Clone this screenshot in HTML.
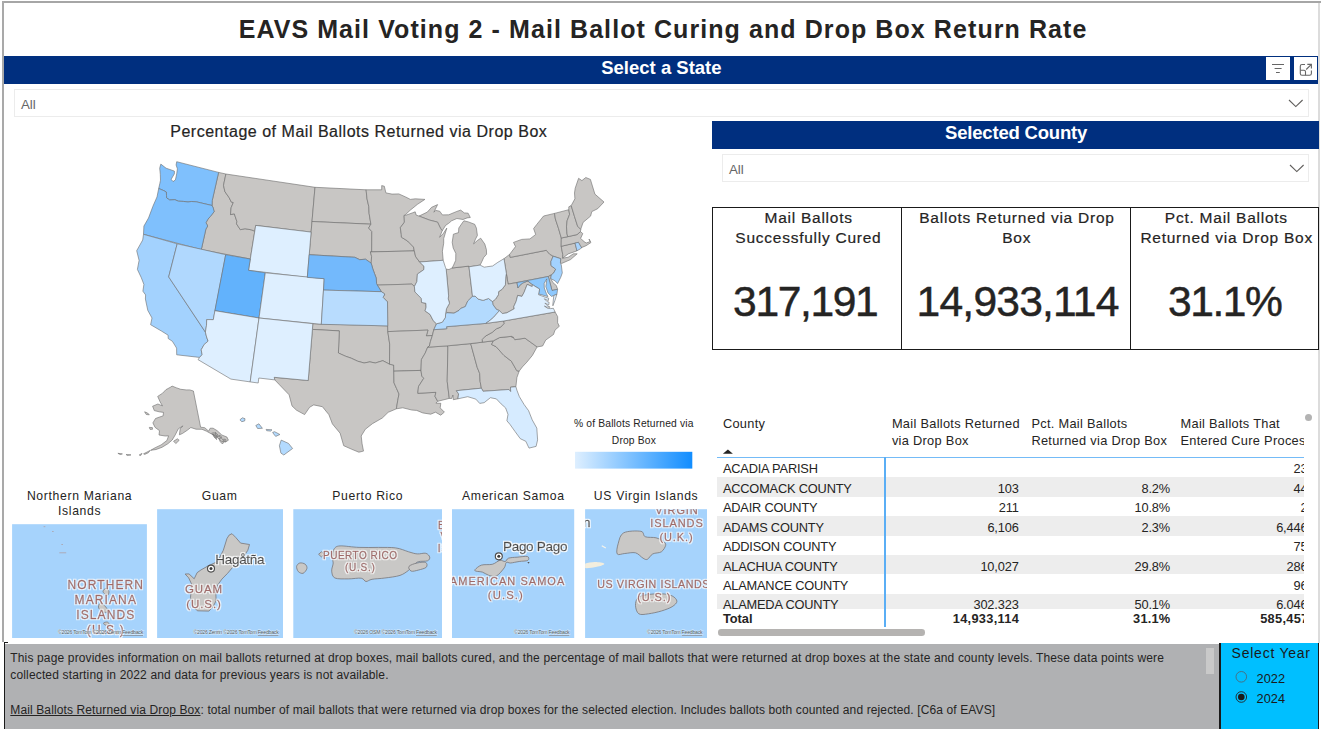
<!DOCTYPE html>
<html lang="en">
<head>
<meta charset="utf-8">
<title>EAVS Mail Voting 2 - Mail Ballot Curing and Drop Box Return Rate</title>
<style>
html,body{margin:0;padding:0;background:#fff;overflow:hidden;}
body{width:1321px;height:729px;position:relative;overflow:hidden;font-family:"Liberation Sans",sans-serif;color:#252423;}
.abs{position:absolute;}
.nw{white-space:nowrap;}
.bar{background:#002f7f;}
.btn{background:#fff;top:57px;height:23px;}
.dd{border:1px solid #ececec;box-sizing:border-box;height:28px;background:#fff;}
.terr-t{font-size:12.2px;line-height:15.6px;text-align:center;color:#252423;letter-spacing:0.66px;}
</style>
</head>
<body>
<!-- outer frame -->
<div class="abs" style="left:2px;top:1px;width:1319px;height:2px;background:#a6a6a6;"></div>
<div class="abs" style="left:2px;top:1px;width:2px;height:641px;background:#a9a9a9;"></div>
<div class="abs" style="left:1318px;top:3px;width:2px;height:640px;background:#dcdcdc;"></div>

<!-- blue bars -->
<div class="abs bar" style="left:4px;top:56.2px;width:1314px;height:27.5px;"></div>
<div class="abs bar" style="left:712px;top:121px;width:607px;height:27.6px;"></div>

<!-- header icon buttons -->
<div class="abs btn" style="left:1266px;width:24px;">
<svg width="24" height="23" viewBox="0 0 24 23"><g stroke="#666" stroke-width="1" fill="none"><path d="M6 7.5H18M8.6 11.5H15.6M10 15.5H13.8"/></g></svg>
</div>
<div class="abs btn" style="left:1294px;width:23px;">
<svg width="23" height="23" viewBox="0 0 23 23"><g stroke="#666" stroke-width="1.1" fill="none"><path d="M11 7.5H8Q6.3 7.5 6.3 9.2V16.5Q6.3 18.3 8 18.3H15.5Q17.4 18.3 17.4 16.5V13.5"/><path d="M6.3 13.3H10Q11.5 13.3 11.5 14.8V18.3"/><path d="M12.2 12.5L17.4 7.4M13.3 7.4H17.4V11.5"/></g></svg>
</div>

<!-- dropdowns -->
<div class="abs dd" style="left:14px;top:89px;width:1295px;">
<svg class="abs" style="left:1273px;top:9px" width="16" height="9" viewBox="0 0 16 9"><path d="M1 1L7.8 7.6L14.6 1" fill="none" stroke="#605e5c" stroke-width="1.1"/></svg>
</div>
<div class="abs dd" style="left:722px;top:154px;width:587px;">
<svg class="abs" style="left:566px;top:9px" width="16" height="9" viewBox="0 0 16 9"><path d="M1 1L7.8 7.6L14.6 1" fill="none" stroke="#605e5c" stroke-width="1.1"/></svg>
</div>

<!-- US map -->
<svg class="abs" style="left:0;top:0" width="712" height="490" viewBox="0 0 712 490">
<defs><linearGradient id="lg" x1="0" x2="1" y1="0" y2="0"><stop offset="0" stop-color="#deefff"/><stop offset="1" stop-color="#118dff"/></linearGradient></defs>
<g stroke="#6b6b6b" stroke-width="0.6" stroke-linejoin="round">
<path d="M218.6,172.4L225.9,174.0L223.5,185.3L224.9,191.6L229.1,197.6L231.4,202.1L233.3,202.5L231.1,207.8L230.5,214.6L234.3,213.8L236.9,221.5L236.5,223.8L240.3,229.7L245.0,228.7L251.3,229.8L254.8,231.2L250.3,259.0L201.3,249.6L205.9,229.1L207.7,226.0L206.0,222.7L208.0,219.1L210.2,216.7L214.1,211.7L213.3,208.1L212.1,205.5L212.2,200.7Z" fill="#c8c6c4"/>
<path d="M225.9,174.0L223.5,185.3L224.9,191.6L229.1,197.6L231.4,202.1L233.3,202.5L231.1,207.8L230.5,214.6L234.3,213.8L236.9,221.5L236.5,223.8L240.3,229.7L245.0,228.7L251.3,229.8L254.8,231.2L255.7,225.4L311.1,232.1L315.0,187.3Z" fill="#c8c6c4"/>
<path d="M315.0,187.3L366.1,189.8L367.0,198.8L368.8,206.6L369.1,213.4L370.9,224.2L312.0,221.5Z" fill="#c8c6c4"/>
<path d="M312.0,221.5L370.9,224.2L368.6,228.0L371.8,231.5L371.7,251.9L370.4,251.9L371.6,256.4L371.2,263.2L369.6,262.1L365.5,259.2L359.7,259.7L354.8,257.3L309.2,254.7Z" fill="#c8c6c4"/>
<path d="M312.8,323.7L387.7,325.9L387.8,331.6L389.7,344.1L389.5,364.2L382.8,360.7L375.3,363.0L369.8,361.9L364.1,363.0L357.6,361.2L351.2,358.2L345.7,356.3L338.4,353.0L339.3,330.9L312.4,329.4Z" fill="#c8c6c4"/>
<path d="M312.4,329.4L339.3,330.9L338.4,353.0L345.7,356.3L351.2,358.2L357.6,361.2L364.1,363.0L369.8,361.9L375.3,363.0L382.8,360.7L389.5,364.2L393.7,365.1L393.8,371.2L394.0,382.8L396.5,388.4L399.0,394.0L397.7,400.8L396.4,408.8L388.2,412.3L382.3,418.0L372.4,423.7L365.3,429.3L361.2,436.0L362.1,443.9L363.5,451.1L358.9,452.2L351.8,449.3L343.7,445.7L340.1,433.2L332.4,423.9L328.9,414.7L322.4,406.7L313.7,404.9L309.6,407.3L304.6,414.6L296.5,410.2L292.0,405.9L289.1,394.8L279.4,384.7L274.8,379.9L274.2,377.3L308.2,380.5Z" fill="#c8c6c4"/>
<path d="M381.7,189.8L381.7,185.6L384.3,186.2L385.9,192.9L392.0,194.1L398.8,193.9L405.7,197.0L410.4,199.4L415.3,198.8L424.9,199.4L417.5,204.3L410.1,210.3L405.7,214.5L404.1,215.5L404.4,222.2L400.3,227.7L401.3,234.4L401.4,237.2L407.6,241.0L413.5,247.0L414.3,250.9L371.7,251.9L371.8,231.5L368.6,228.0L370.9,224.2L369.1,213.4L368.8,206.6L367.0,198.8L366.1,189.8Z" fill="#c8c6c4"/>
<path d="M371.7,251.9L414.3,250.9L415.6,256.5L419.6,262.0L424.0,266.3L423.8,269.7L417.4,274.1L416.9,281.5L414.4,286.5L411.9,284.1L377.3,285.1L376.6,283.7L376.2,278.0L374.5,273.5L372.8,268.9L371.2,263.2L371.6,256.4L370.4,251.9Z" fill="#c8c6c4"/>
<path d="M377.3,285.1L411.9,284.1L414.4,286.5L414.9,291.9L421.3,298.4L421.5,302.4L425.9,303.3L426.1,307.3L425.0,310.8L430.1,314.5L433.2,320.6L436.5,323.8L433.8,329.7L432.4,335.5L426.3,335.9L428.0,330.1L387.8,331.6L387.7,325.9L387.5,301.9L383.1,297.4L384.8,294.0L381.4,291.7Z" fill="#c8c6c4"/>
<path d="M387.8,331.6L428.0,330.1L426.3,335.9L432.4,335.5L430.5,341.3L429.4,346.0L427.7,347.2L425.2,353.1L421.4,359.6L421.0,370.4L393.8,371.2L393.7,365.1L389.5,364.2L389.7,344.1Z" fill="#c8c6c4"/>
<path d="M393.8,371.2L421.0,370.4L421.8,376.1L423.8,378.2L418.5,386.5L417.8,393.3L435.9,392.3L435.0,396.3L437.7,401.3L435.9,403.1L440.8,403.3L440.2,407.9L444.4,412.1L440.7,415.2L435.5,412.2L430.7,414.2L422.7,412.9L416.7,410.4L411.7,410.0L402.8,407.8L396.4,408.8L397.7,400.8L399.0,394.0L396.5,388.4L394.0,382.8Z" fill="#c8c6c4"/>
<path d="M421.0,370.4L421.4,359.6L425.2,353.1L427.7,347.2L446.9,345.9L447.9,346.9L447.2,381.2L449.3,398.4L437.7,401.3L435.0,396.3L435.9,392.3L417.8,393.3L418.5,386.5L423.8,378.2L421.8,376.1Z" fill="#c8c6c4"/>
<path d="M446.9,345.9L470.7,343.6L477.2,367.3L479.7,373.5L480.1,381.4L481.4,388.2L456.4,390.7L458.6,393.9L457.9,398.8L453.3,399.7L452.9,395.0L451.7,398.5L449.3,398.4L447.2,381.2L447.9,346.9Z" fill="#c8c6c4"/>
<path d="M470.7,343.6L493.4,340.8L491.6,344.5L496.1,346.7L503.9,355.4L511.4,361.2L516.8,370.7L519.2,371.1L516.9,377.6L515.9,386.7L510.5,387.2L510.7,391.6L508.9,389.5L483.1,391.3L481.4,388.2L480.1,381.4L479.7,373.5L477.2,367.3Z" fill="#c8c6c4"/>
<path d="M493.4,340.8L499.5,337.6L511.8,336.3L512.0,337.5L513.0,336.7L514.8,339.7L525.0,338.2L537.1,346.9L532.4,355.4L526.9,362.1L522.4,366.9L519.2,371.1L516.8,370.7L511.4,361.2L503.9,355.4L496.1,346.7L491.6,344.5Z" fill="#c8c6c4"/>
<path d="M482.3,342.2L493.4,340.8L499.5,337.6L511.8,336.3L512.0,337.5L513.0,336.7L514.8,339.7L525.0,338.2L537.1,346.9L542.6,346.0L545.7,340.1L553.5,334.5L555.0,330.1L559.3,326.3L557.6,322.6L557.7,316.7L555.1,312.0L503.6,321.0L503.9,323.7L500.7,327.1L496.4,328.8L492.3,332.3L485.4,336.1L482.2,339.4Z" fill="#c8c6c4"/>
<path d="M427.7,347.2L429.4,346.0L430.5,341.3L432.4,335.5L433.8,329.7L446.8,328.7L446.5,326.7L485.8,323.4L503.6,321.0L503.9,323.7L500.7,327.1L496.4,328.8L492.3,332.3L485.4,336.1L482.2,339.4L482.3,342.2L470.7,343.6L446.9,345.9Z" fill="#c8c6c4"/>
<path d="M446.2,269.2L449.0,269.5L452.1,268.0L468.9,266.1L472.5,296.3L467.7,301.1L465.3,306.6L460.6,308.5L459.0,310.4L454.0,313.2L446.8,312.7L445.6,313.9L446.5,308.7L449.5,303.2L448.2,298.8L448.6,295.9Z" fill="#c8c6c4"/>
<path d="M452.1,268.0L468.9,266.1L469.0,266.8L480.1,265.1L482.1,261.1L483.7,257.5L486.6,254.2L486.4,249.6L484.8,244.1L480.7,238.2L477.3,240.6L473.6,243.9L475.5,239.1L477.4,235.4L476.4,228.1L474.7,224.3L468.4,221.9L463.9,220.8L462.2,223.0L458.8,228.0L458.5,232.6L453.4,234.2L452.2,242.3L453.2,248.0L455.8,253.4L455.7,260.3L453.6,265.1ZM419.0,216.1L429.5,220.1L437.5,222.1L440.4,228.1L442.2,230.8L445.7,225.3L448.7,223.3L451.6,220.8L456.9,218.5L463.0,219.5L467.1,217.9L470.3,217.5L468.1,213.2L464.2,212.9L460.7,210.1L456.9,211.4L448.7,214.8L442.4,214.9L439.7,211.2L435.7,210.4L433.9,212.2L437.6,204.6L431.6,207.3L427.3,212.1Z" fill="#c8c6c4"/>
<path d="M404.1,215.5L406.5,215.0L412.6,212.8L415.2,211.8L416.2,215.1L419.0,216.1L429.5,220.1L437.5,222.1L440.4,228.1L442.2,230.8L439.6,237.3L443.3,233.5L446.8,228.1L443.7,238.6L443.7,243.2L442.4,251.2L443.2,260.3L419.6,262.0L415.6,256.5L414.3,250.9L413.5,247.0L407.6,241.0L401.4,237.2L401.3,234.4L400.3,227.7L404.4,222.2Z" fill="#c8c6c4"/>
<path d="M504.0,258.7L509.6,254.4L510.2,257.4L546.3,250.3L549.7,254.2L553.2,256.2L550.9,261.5L551.0,265.6L555.7,269.2L553.5,273.2L551.3,274.9L548.3,276.5L508.1,284.1L506.4,273.7Z" fill="#c8c6c4"/>
<path d="M509.6,254.4L515.5,246.6L513.5,242.4L521.7,239.4L529.9,238.9L535.7,234.5L533.6,228.6L536.8,224.4L543.6,216.0L554.5,213.4L555.4,219.0L558.6,228.7L561.3,238.0L561.2,246.3L562.8,254.7L562.7,258.2L568.2,257.2L573.4,253.8L577.2,253.8L570.5,259.6L561.8,263.4L560.4,262.9L560.7,258.7L553.2,256.2L549.7,254.2L546.3,250.3L510.2,257.4Z" fill="#c8c6c4"/>
<path d="M548.3,276.5L551.3,274.9L550.7,278.5L553.0,282.7L556.3,285.5L557.6,289.3L552.0,290.5Z" fill="#c8c6c4"/>
<path d="M492.5,301.5L495.7,299.0L498.5,294.5L498.6,291.6L502.1,289.3L505.4,284.8L505.8,276.6L506.4,273.7L508.1,284.1L517.0,282.6L517.9,287.9L520.6,284.5L523.0,282.9L526.2,281.6L527.9,281.1L532.5,284.6L532.2,286.6L527.2,284.4L524.1,292.3L521.9,296.4L517.7,295.4L516.1,301.5L513.8,306.5L514.2,308.8L506.7,312.9L502.3,313.6L499.4,310.6L496.3,309.3L492.9,304.5L492.5,301.5Z" fill="#c8c6c4"/>
<path d="M561.2,246.3L575.0,243.1L576.8,250.0L576.6,251.0L568.2,253.9L562.7,258.2L562.8,254.7Z" fill="#c8c6c4"/>
<path d="M561.2,246.3L561.3,238.0L567.7,236.7L577.0,234.6L580.5,231.7L582.8,233.6L580.6,238.4L584.1,241.6L586.2,243.0L590.2,241.6L589.0,239.0L590.9,242.6L586.1,245.7L582.0,247.4L581.4,247.6L578.4,242.3L575.0,243.1Z" fill="#c8c6c4"/>
<path d="M554.5,213.4L568.8,209.7L569.6,214.3L567.1,220.8L566.5,226.8L567.0,233.7L567.7,236.7L561.3,238.0L558.6,228.7L555.4,219.0Z" fill="#c8c6c4"/>
<path d="M568.8,209.7L568.8,206.8L571.2,205.6L574.5,216.5L577.6,226.2L580.7,229.3L580.5,231.7L577.0,234.6L567.7,236.7L567.0,233.7L566.5,226.8L567.1,220.8L569.6,214.3Z" fill="#c8c6c4"/>
<path d="M571.2,205.6L574.9,198.8L574.5,193.0L575.2,188.2L578.6,178.3L581.9,180.6L585.8,177.5L590.4,179.4L594.9,194.1L598.9,197.6L604.0,202.0L597.7,208.7L591.8,211.6L590.6,216.1L583.1,222.4L580.7,229.3L577.6,226.2L574.5,216.5L571.2,205.6Z" fill="#c8c6c4"/>
<path d="M193.4,391.0L200.6,427.2L204.7,427.7L208.6,431.1L210.2,428.2L213.1,428.2L217.2,430.7L221.8,435.0L226.9,437.0L228.4,440.2L225.4,442.1L221.6,441.3L216.7,436.7L211.5,434.0L206.5,431.2L202.0,429.3L196.0,429.2L190.8,427.5L187.2,430.3L182.4,433.5L179.4,434.8L180.2,428.8L182.9,425.9L178.3,428.8L175.3,434.8L172.2,440.0L167.8,443.8L162.0,447.3L156.1,449.5L150.7,450.3L155.2,447.7L161.1,444.9L166.9,440.5L168.6,435.9L165.1,436.0L159.0,435.0L159.5,430.7L155.0,427.3L152.9,422.9L155.5,418.5L159.4,417.1L163.1,415.9L163.5,412.4L159.2,411.8L154.3,410.6L152.6,406.2L157.9,404.0L162.5,405.9L160.2,402.0L157.7,396.4L162.6,393.2L165.9,389.7L170.8,387.0L172.1,386.1L176.7,387.9L180.7,389.3L186.2,389.9L189.7,389.9ZM150.2,450.4L147.1,452.0L143.6,453.8L144.7,454.4L148.4,452.7ZM142.0,453.4L139.2,455.0L140.6,455.6ZM131.0,454.9L126.1,454.5L127.1,455.4ZM122.4,453.9L117.9,453.3L120.1,454.5ZM144.6,411.8L147.6,413.0L149.3,414.8L146.3,414.5ZM149.3,427.4L152.4,427.6L152.5,429.3L150.1,429.4ZM173.6,441.2L177.4,438.8L179.2,440.3L175.8,443.6ZM211.7,433.1L214.4,432.8L217.1,435.7L216.6,439.6L214.4,437.3ZM215.1,432.2L217.2,434.0L218.6,436.5L217.3,436.5L215.6,434.5ZM218.8,438.5L221.5,438.1L224.0,441.4L222.5,444.0L220.3,441.8ZM219.0,435.5L220.7,435.8L221.7,437.5L220.2,437.6ZM223.6,439.0L225.7,439.5L226.0,441.5L224.4,441.2ZM213.0,434.0L215.1,435.1L216.3,437.6L214.9,437.6Z" fill="#c8c6c4"/>
<path d="M160.8,164.1L166.1,168.2L171.9,170.2L174.4,171.1L174.4,173.8L171.2,179.3L173.0,181.6L175.4,179.9L176.7,173.9L177.4,168.8L176.1,165.0L176.7,161.7L218.6,172.4L212.2,200.7L212.1,205.5L196.2,201.8L191.4,201.5L188.0,202.0L183.3,201.4L178.4,201.2L174.8,199.7L169.7,200.0L166.6,197.9L166.5,195.5L166.3,192.0L163.5,190.5L158.7,188.5L159.8,183.6L160.5,180.2L160.3,174.3L159.7,168.2Z" fill="#7fc0fd"/>
<path d="M158.7,188.5L163.5,190.5L166.3,192.0L166.5,195.5L166.6,197.9L169.7,200.0L174.8,199.7L178.4,201.2L183.3,201.4L188.0,202.0L191.4,201.5L196.2,201.8L212.1,205.5L213.3,208.1L214.1,211.7L210.2,216.7L208.0,219.1L206.0,222.7L207.7,226.0L205.9,229.1L201.3,249.6L143.5,234.3L143.9,226.1L148.5,218.0L152.9,206.3L157.0,196.9Z" fill="#7fc0fd"/>
<path d="M143.5,234.3L177.2,243.8L168.7,276.9L205.4,332.1L206.6,337.0L208.1,341.1L204.1,344.6L201.2,349.8L202.1,354.7L199.5,357.4L176.7,354.8L176.6,348.1L172.4,341.3L168.2,338.5L168.1,335.2L161.4,331.0L150.6,324.7L152.0,318.0L147.8,310.4L145.4,299.0L145.6,294.9L142.9,291.2L143.9,284.4L141.3,277.7L137.4,269.4L139.1,260.4L136.7,250.7L142.7,240.0Z" fill="#a3d2fe"/>
<path d="M177.2,243.8L225.7,254.7L213.3,319.7L213.3,319.7L210.0,319.6L206.7,319.6L206.5,325.3L205.4,332.1L168.7,276.9Z" fill="#b0d8fe"/>
<path d="M255.7,225.4L311.1,232.1L307.3,277.4L248.5,270.3Z" fill="#deefff"/>
<path d="M225.7,254.7L250.3,259.0L248.5,270.3L265.3,272.8L259.0,318.0L214.9,310.7Z" fill="#62b2fc"/>
<path d="M265.3,272.8L324.2,278.7L321.3,324.3L259.0,318.0Z" fill="#deefff"/>
<path d="M214.9,310.7L259.0,318.0L250.2,381.9L230.9,379.1L198.1,359.7L199.5,357.4L202.1,354.7L201.2,349.8L204.1,344.6L208.1,341.1L206.6,337.0L205.4,332.1L206.5,325.3L206.7,319.6L210.0,319.6L213.3,319.7Z" fill="#deefff"/>
<path d="M259.0,318.0L312.8,323.7L312.4,329.4L308.2,380.5L274.2,377.3L274.8,379.9L258.8,378.0L258.2,383.0L250.2,381.9Z" fill="#deefff"/>
<path d="M309.2,254.7L354.8,257.3L359.7,259.7L365.5,259.2L369.6,262.1L371.2,263.2L372.8,268.9L374.5,273.5L376.2,278.0L376.6,283.7L377.3,285.1L381.4,291.7L323.5,290.1L324.2,278.7L307.3,277.4Z" fill="#73b9fc"/>
<path d="M323.5,290.1L381.4,291.7L384.8,294.0L383.1,297.4L387.5,301.9L387.7,325.9L321.3,324.3Z" fill="#b8dcfe"/>
<path d="M457.9,398.8L458.6,393.9L456.4,390.7L481.4,388.2L483.1,391.3L508.9,389.5L510.7,391.6L510.5,387.2L515.9,386.7L516.9,390.2L519.4,396.7L524.1,404.5L528.6,410.7L532.2,419.8L536.8,428.1L537.6,439.9L536.1,446.4L529.0,448.1L525.8,441.3L520.3,438.7L515.1,431.6L509.9,424.3L506.9,420.8L508.0,414.4L505.6,407.9L501.1,403.9L496.4,398.9L490.4,397.7L484.1,402.7L479.7,403.4L475.8,399.1L467.7,396.7Z" fill="#d6ebff"/>
<path d="M433.8,329.7L436.5,323.8L442.3,322.2L445.4,317.4L445.6,313.9L446.8,312.7L454.0,313.2L459.0,310.4L460.6,308.5L465.3,306.6L467.7,301.1L472.5,296.3L475.0,296.0L478.1,299.0L483.1,300.4L488.5,298.5L492.5,301.5L492.9,304.5L496.3,309.3L499.4,310.6L493.8,317.1L490.6,319.9L485.8,323.4L446.5,326.7L446.8,328.7Z" fill="#b3dafe"/>
<path d="M419.6,262.0L443.2,260.3L445.5,267.5L446.2,269.2L448.6,295.9L448.2,298.8L449.5,303.2L446.5,308.7L445.6,313.9L445.4,317.4L442.3,322.2L436.5,323.8L433.2,320.6L430.1,314.5L425.0,310.8L426.1,307.3L425.9,303.3L421.5,302.4L421.3,298.4L414.9,291.9L414.4,286.5L416.9,281.5L417.4,274.1L423.8,269.7L424.0,266.3Z" fill="#deefff"/>
<path d="M469.0,266.8L480.1,265.1L484.2,267.2L486.7,266.8L492.6,266.0L497.9,262.3L504.0,258.7L506.4,273.7L505.8,276.6L505.4,284.8L502.1,289.3L498.6,291.6L498.5,294.5L495.7,299.0L492.5,301.5L488.5,298.5L483.1,300.4L478.1,299.0L475.0,296.0L472.5,296.3Z" fill="#deefff"/>
<path d="M553.2,256.2L560.7,258.7L560.4,262.9L561.3,265.0L562.3,272.9L560.7,277.4L557.6,283.6L555.3,281.0L550.7,278.5L551.3,274.9L553.5,273.2L555.7,269.2L551.0,265.6L550.9,261.5Z" fill="#a3d2fe"/>
<path d="M517.0,282.6L548.3,276.5L552.0,290.5L557.6,289.3L556.9,294.3L553.8,295.5L551.5,296.4L548.1,293.1L545.8,286.6L546.7,280.5L546.8,278.8L544.2,283.4L544.3,288.0L546.3,293.4L547.9,296.6L542.2,294.9L538.4,293.9L539.6,289.0L535.1,286.4L532.5,284.6L527.9,281.1L526.2,281.6L523.0,282.9L520.6,284.5L517.9,287.9L517.9,287.9Z" fill="#8ec8fd"/>
<path d="M485.8,323.4L490.6,319.9L493.8,317.1L499.4,310.6L502.3,313.6L506.7,312.9L514.2,308.8L513.8,306.5L516.1,301.5L517.7,295.4L521.9,296.4L524.1,292.3L527.2,284.4L532.2,286.6L532.5,284.6L535.1,286.4L539.6,289.0L538.5,294.7L541.5,295.8L545.3,297.2L548.7,298.2L548.3,300.6L544.3,298.8L547.2,301.7L549.1,302.2L548.8,304.9L544.9,303.1L547.6,305.8L550.1,307.2L546.9,307.1L544.4,306.1L547.6,308.3L550.4,308.6L553.4,308.3L555.1,312.0L503.6,321.0ZM556.9,294.3L553.8,295.5L552.8,304.9L552.9,305.8L555.0,300.3Z" fill="#deefff"/>
<path d="M575.0,243.1L578.4,242.3L581.4,247.6L582.0,247.4L580.0,249.1L576.6,251.0L576.8,250.0Z" fill="#a8d4fe"/>
<path d="M239.9,419.8L242.4,417.8L245.0,418.7L244.7,420.9L241.8,421.7ZM255.8,425.5L258.9,423.8L262.4,428.3L257.6,428.5ZM266.1,429.4L272.0,429.8L270.6,431.1L266.7,430.7ZM272.7,432.3L274.6,431.7L279.9,434.5L275.7,436.4L273.6,433.9ZM281.2,440.1L288.5,443.4L292.6,448.5L283.8,455.0L280.9,453.1L279.4,445.7Z" fill="#b3dafe"/>
</g>
<rect x="575" y="451.8" width="117.3" height="16.8" fill="url(#lg)"/>
</svg>

<!-- cards -->
<div class="abs" style="left:712px;top:207px;width:607px;height:143px;box-sizing:border-box;border:1.2px solid #1a1a1a;"></div>
<div class="abs" style="left:901px;top:207px;width:1.3px;height:143px;background:#1a1a1a;"></div>
<div class="abs" style="left:1129.5px;top:207px;width:1.3px;height:143px;background:#1a1a1a;"></div>

<!-- table chrome -->
<div class="abs" style="left:717px;top:456.6px;width:587px;height:1.2px;background:#74bbf7;"></div>
<div class="abs" style="left:884.3px;top:457px;width:1.3px;height:170px;background:#5aaef5;z-index:3;"></div>
<svg class="abs" style="left:722px;top:448px" width="12" height="7" viewBox="0 0 12 7"><path d="M0.9 5.8L5.9 1.5L10.9 5.8Z" fill="#252423"/></svg>
<div class="abs" style="left:718px;top:629px;width:207px;height:6.5px;border-radius:3.3px;background:#b5b3b1;"></div>
<div class="abs" style="left:1305.4px;top:413.8px;width:7px;height:7px;border-radius:50%;background:#b3b3b3;"></div>

<!-- bottom description strip -->
<div class="abs" style="left:4px;top:643.7px;width:1216px;height:86px;background:#b0b1b3;"></div>
<div class="abs" style="left:3.6px;top:641.8px;width:1.5px;height:88px;background:#1a1a1a;"></div>
<div class="abs" style="left:3.6px;top:641.8px;width:4px;height:1.2px;background:#1a1a1a;"></div>
<div class="abs" style="left:1206.2px;top:648px;width:8px;height:25.5px;background:#c9c9c9;"></div>
<!-- year slicer -->
<div class="abs" style="left:1219.2px;top:642.7px;width:100px;height:87px;background:#1a1a1a;"></div>
<div class="abs" style="left:1221.1px;top:642.6px;width:97.2px;height:87px;background:#00bfff;"></div>
<svg class="abs" style="left:1232px;top:668px" width="20" height="40" viewBox="1232 668 20 40">
<circle cx="1241.3" cy="676.8" r="5.3" fill="none" stroke="#4a6a7a" stroke-width="0.9"/>
<circle cx="1241.3" cy="697" r="5.3" fill="none" stroke="#222" stroke-width="0.9"/>
<circle cx="1241.3" cy="697" r="3.3" fill="#1a1a1a"/>
</svg>

<div class="abs nw" style="top:12.64px;font-size:25px;line-height:32px;letter-spacing:1.08px;font-weight:bold;left:-236.96px;width:1800px;text-align:center;">EAVS Mail Voting 2 - Mail Ballot Curing and Drop Box Return Rate</div>
<div class="abs nw" style="top:56.29px;font-size:18.5px;line-height:24px;font-weight:bold;color:#fff;left:-238.60px;width:1800px;text-align:center;">Select a State</div>
<div class="abs nw" style="top:121.39px;font-size:18.5px;line-height:24px;letter-spacing:-0.2px;font-weight:bold;color:#fff;left:116.10px;width:1800px;text-align:center;">Selected County</div>
<div class="abs nw" style="top:95.59px;font-size:13.3px;line-height:17px;color:#666;left:21.00px;">All</div>
<div class="abs nw" style="top:160.59px;font-size:13.3px;line-height:17px;color:#666;left:728.90px;">All</div>
<div class="abs nw" style="top:121.06px;font-size:16px;line-height:21px;letter-spacing:0.52px;left:-541.24px;width:1800px;text-align:center;-webkit-text-stroke:0.2px #252423;">Percentage of Mail Ballots Returned via Drop Box</div>
<div class="abs nw" style="top:208.33px;font-size:15.5px;line-height:20px;letter-spacing:0.75px;left:-91.42px;width:1800px;text-align:center;-webkit-text-stroke:0.2px #252423;">Mail Ballots</div>
<div class="abs nw" style="top:228.23px;font-size:15.5px;line-height:20px;letter-spacing:0.75px;left:-91.62px;width:1800px;text-align:center;-webkit-text-stroke:0.2px #252423;">Successfully Cured</div>
<div class="abs nw" style="top:208.33px;font-size:15.5px;line-height:20px;letter-spacing:0.75px;left:116.98px;width:1800px;text-align:center;-webkit-text-stroke:0.2px #252423;">Ballots Returned via Drop</div>
<div class="abs nw" style="top:228.23px;font-size:15.5px;line-height:20px;letter-spacing:0.75px;left:116.67px;width:1800px;text-align:center;-webkit-text-stroke:0.2px #252423;">Box</div>
<div class="abs nw" style="top:208.33px;font-size:15.5px;line-height:20px;letter-spacing:0.75px;left:326.38px;width:1800px;text-align:center;-webkit-text-stroke:0.2px #252423;">Pct. Mail Ballots</div>
<div class="abs nw" style="top:228.23px;font-size:15.5px;line-height:20px;letter-spacing:0.75px;left:326.67px;width:1800px;text-align:center;-webkit-text-stroke:0.2px #252423;">Returned via Drop Box</div>
<div class="abs nw" style="top:273.94px;font-size:42.6px;line-height:55px;letter-spacing:-1.4px;left:-94.80px;width:1800px;text-align:center;-webkit-text-stroke:0.45px #252423;">317,191</div>
<div class="abs nw" style="top:273.94px;font-size:42.6px;line-height:55px;letter-spacing:-0.8px;left:117.60px;width:1800px;text-align:center;-webkit-text-stroke:0.45px #252423;">14,933,114</div>
<div class="abs nw" style="top:273.94px;font-size:42.6px;line-height:55px;letter-spacing:-1.5px;left:324.75px;width:1800px;text-align:center;-webkit-text-stroke:0.45px #252423;">31.1%</div>
<div class="abs nw" style="top:416.53px;font-size:10.3px;line-height:13px;letter-spacing:0.16px;left:-266.22px;width:1800px;text-align:center;">% of Ballots Returned via</div>
<div class="abs nw" style="top:433.83px;font-size:10.3px;line-height:13px;letter-spacing:0.16px;left:-266.12px;width:1800px;text-align:center;">Drop Box</div>
<div class="abs nw" style="top:414.86px;font-size:12.8px;line-height:17px;letter-spacing:0.3px;left:722.90px;">County</div>
<div class="abs nw" style="top:414.86px;font-size:12.8px;line-height:17px;letter-spacing:0.3px;left:891.90px;">Mail Ballots Returned</div>
<div class="abs nw" style="top:431.96px;font-size:12.8px;line-height:17px;letter-spacing:0.3px;left:891.90px;">via Drop Box</div>
<div class="abs nw" style="top:414.86px;font-size:12.8px;line-height:17px;letter-spacing:0.3px;left:1031.40px;">Pct. Mail Ballots</div>
<div class="abs nw" style="top:431.96px;font-size:12.8px;line-height:17px;letter-spacing:0.3px;left:1031.40px;">Returned via Drop Box</div>
<div class="abs nw" style="top:414.86px;font-size:12.8px;line-height:17px;letter-spacing:0.3px;left:1180.50px;">Mail Ballots That</div>
<div class="abs nw" style="top:431.96px;font-size:12.8px;line-height:17px;letter-spacing:0.3px;left:1180.50px;width:123.5px;overflow:hidden;">Entered Cure Process</div>
<div class="abs" style="left:717px;top:457.5px;width:587px;height:151px;overflow:hidden;">
<div class="abs nw" style="top:2.76px;font-size:12.8px;line-height:17px;letter-spacing:-0.18px;left:5.90px;">ACADIA PARISH</div>
<div class="abs nw" style="top:2.76px;font-size:12.8px;line-height:17px;letter-spacing:-0.15px;left:190.45px;width:400px;text-align:right;">23</div>
<div class="abs" style="left:0;top:19.75px;width:587px;height:19.45px;background:#ededed;"></div>
<div class="abs nw" style="top:22.21px;font-size:12.8px;line-height:17px;letter-spacing:-0.18px;left:5.90px;">ACCOMACK COUNTY</div>
<div class="abs nw" style="top:22.21px;font-size:12.8px;line-height:17px;letter-spacing:-0.15px;left:-98.35px;width:400px;text-align:right;">103</div>
<div class="abs nw" style="top:22.21px;font-size:12.8px;line-height:17px;letter-spacing:-0.15px;left:53.05px;width:400px;text-align:right;">8.2%</div>
<div class="abs nw" style="top:22.21px;font-size:12.8px;line-height:17px;letter-spacing:-0.15px;left:190.45px;width:400px;text-align:right;">44</div>
<div class="abs nw" style="top:41.66px;font-size:12.8px;line-height:17px;letter-spacing:-0.18px;left:5.90px;">ADAIR COUNTY</div>
<div class="abs nw" style="top:41.66px;font-size:12.8px;line-height:17px;letter-spacing:-0.15px;left:-98.35px;width:400px;text-align:right;">211</div>
<div class="abs nw" style="top:41.66px;font-size:12.8px;line-height:17px;letter-spacing:-0.15px;left:53.05px;width:400px;text-align:right;">10.8%</div>
<div class="abs nw" style="top:41.66px;font-size:12.8px;line-height:17px;letter-spacing:-0.15px;left:190.45px;width:400px;text-align:right;">2</div>
<div class="abs" style="left:0;top:58.65px;width:587px;height:19.45px;background:#ededed;"></div>
<div class="abs nw" style="top:61.11px;font-size:12.8px;line-height:17px;letter-spacing:-0.18px;left:5.90px;">ADAMS COUNTY</div>
<div class="abs nw" style="top:61.11px;font-size:12.8px;line-height:17px;letter-spacing:-0.15px;left:-98.35px;width:400px;text-align:right;">6,106</div>
<div class="abs nw" style="top:61.11px;font-size:12.8px;line-height:17px;letter-spacing:-0.15px;left:53.05px;width:400px;text-align:right;">2.3%</div>
<div class="abs nw" style="top:61.11px;font-size:12.8px;line-height:17px;letter-spacing:-0.15px;left:190.45px;width:400px;text-align:right;">6,446</div>
<div class="abs nw" style="top:80.56px;font-size:12.8px;line-height:17px;letter-spacing:-0.18px;left:5.90px;">ADDISON COUNTY</div>
<div class="abs nw" style="top:80.56px;font-size:12.8px;line-height:17px;letter-spacing:-0.15px;left:190.45px;width:400px;text-align:right;">75</div>
<div class="abs" style="left:0;top:97.55px;width:587px;height:19.45px;background:#ededed;"></div>
<div class="abs nw" style="top:100.01px;font-size:12.8px;line-height:17px;letter-spacing:-0.18px;left:5.90px;">ALACHUA COUNTY</div>
<div class="abs nw" style="top:100.01px;font-size:12.8px;line-height:17px;letter-spacing:-0.15px;left:-98.35px;width:400px;text-align:right;">10,027</div>
<div class="abs nw" style="top:100.01px;font-size:12.8px;line-height:17px;letter-spacing:-0.15px;left:53.05px;width:400px;text-align:right;">29.8%</div>
<div class="abs nw" style="top:100.01px;font-size:12.8px;line-height:17px;letter-spacing:-0.15px;left:190.45px;width:400px;text-align:right;">286</div>
<div class="abs nw" style="top:119.46px;font-size:12.8px;line-height:17px;letter-spacing:-0.18px;left:5.90px;">ALAMANCE COUNTY</div>
<div class="abs nw" style="top:119.46px;font-size:12.8px;line-height:17px;letter-spacing:-0.15px;left:190.45px;width:400px;text-align:right;">96</div>
<div class="abs" style="left:0;top:136.45px;width:587px;height:19.45px;background:#ededed;"></div>
<div class="abs nw" style="top:138.91px;font-size:12.8px;line-height:17px;letter-spacing:-0.18px;left:5.90px;">ALAMEDA COUNTY</div>
<div class="abs nw" style="top:138.91px;font-size:12.8px;line-height:17px;letter-spacing:-0.15px;left:-98.35px;width:400px;text-align:right;">302,323</div>
<div class="abs nw" style="top:138.91px;font-size:12.8px;line-height:17px;letter-spacing:-0.15px;left:53.05px;width:400px;text-align:right;">50.1%</div>
<div class="abs nw" style="top:138.91px;font-size:12.8px;line-height:17px;letter-spacing:-0.15px;left:190.45px;width:400px;text-align:right;">6,046</div>
</div>
<div class="abs" style="left:717px;top:609px;width:587px;height:19px;overflow:hidden;background:#fff;">
<div class="abs nw" style="top:1.36px;font-size:12.8px;line-height:17px;font-weight:bold;left:5.90px;">Total</div>
<div class="abs nw" style="top:1.36px;font-size:12.8px;line-height:17px;letter-spacing:0.3px;font-weight:bold;left:-97.90px;width:400px;text-align:right;">14,933,114</div>
<div class="abs nw" style="top:1.36px;font-size:12.8px;line-height:17px;letter-spacing:0.2px;font-weight:bold;left:53.40px;width:400px;text-align:right;">31.1%</div>
<div class="abs nw" style="top:1.36px;font-size:12.8px;line-height:17px;letter-spacing:0.3px;font-weight:bold;left:191.50px;width:400px;text-align:right;">585,457</div>
</div>
<div class="abs nw" style="top:649.64px;font-size:12px;line-height:16px;letter-spacing:0.15px;left:10.30px;">This page provides information on mail ballots returned at drop boxes, mail ballots cured, and the percentage of mail ballots that were returned at drop boxes at the state and county levels. These data points were</div>
<div class="abs nw" style="top:667.34px;font-size:12px;line-height:16px;letter-spacing:0.15px;left:10.30px;">collected starting in 2022 and data for previous years is not available.</div>
<div class="abs nw" style="top:702.14px;font-size:12px;line-height:16px;letter-spacing:0.12px;left:10.30px;"><span style="text-decoration:underline">Mail Ballots Returned via Drop Box</span>: total number of mail ballots that were returned via drop boxes for the selected election. Includes ballots both counted and rejected. [C6a of EAVS]</div>
<div class="abs nw" style="top:643.85px;font-size:14px;line-height:18px;letter-spacing:0.76px;color:#1a1a1a;left:1231.60px;">Select Year</div>
<div class="abs nw" style="top:669.56px;font-size:12.8px;line-height:17px;color:#1a1a1a;left:1256.60px;">2022</div>
<div class="abs nw" style="top:689.56px;font-size:12.8px;line-height:17px;color:#1a1a1a;left:1256.60px;">2024</div>
<svg class="abs" style="left:0;top:480px" width="712" height="162" viewBox="0 480 712 162" font-family="Liberation Sans, sans-serif">
<defs>
<filter id="halo" x="-10%" y="-30%" width="120%" height="160%"><feMorphology in="SourceAlpha" operator="dilate" radius="0.9" result="d"/><feGaussianBlur in="d" stdDeviation="0.45" result="b"/><feFlood flood-color="#fff" flood-opacity="0.75"/><feComposite in2="b" operator="in" result="h"/><feMerge><feMergeNode in="h"/><feMergeNode in="SourceGraphic"/></feMerge></filter>
<filter id="halo2" x="-10%" y="-30%" width="120%" height="160%"><feMorphology in="SourceAlpha" operator="dilate" radius="1.2" result="d"/><feGaussianBlur in="d" stdDeviation="0.5" result="b"/><feFlood flood-color="#fff" flood-opacity="0.9"/><feComposite in2="b" operator="in" result="h"/><feMerge><feMergeNode in="h"/><feMergeNode in="SourceGraphic"/></feMerge></filter>
<clipPath id="tc0"><rect x="12.1" y="524.2" width="134.8" height="113.8"/></clipPath>
<clipPath id="tc1"><rect x="157.1" y="509.2" width="125.9" height="128.8"/></clipPath>
<clipPath id="tc2"><rect x="293.3" y="509.2" width="148.7" height="128.8"/></clipPath>
<clipPath id="tc3"><rect x="452.0" y="509.2" width="122.2" height="128.8"/></clipPath>
<clipPath id="tc4"><rect x="585.1" y="509.2" width="121.9" height="128.8"/></clipPath>
</defs>
<rect x="12.1" y="524.2" width="134.8" height="113.8" fill="#a6d3fc"/>
<g clip-path="url(#tc0)">
<rect x="43.6" y="526.4" width="1.7" height="0.7" fill="#b08d86" opacity="0.8"/>
<rect x="52.0" y="531.3" width="1.7" height="0.7" fill="#b08d86" opacity="0.8"/>
<rect x="61.3" y="544.3" width="1.7" height="0.7" fill="#b08d86" opacity="0.8"/>
<rect x="59.3" y="552.5" width="6.9" height="0.7" fill="#b08d86" opacity="0.8"/>
<path d="M105.9,588.4C106.8,588.4 108.5,590.0 108.9,591.0C109.2,592.1 108.7,594.4 108.0,594.9C107.3,595.4 105.4,594.5 104.6,593.8C103.7,593.2 102.8,591.9 103.1,591.0C103.3,590.1 104.9,588.4 105.9,588.4Z" fill="#c9c8c6" stroke="#77767a" stroke-width="0.8" stroke-linejoin="round"/>
<path d="M99.8,603.5C100.8,603.1 103.2,604.4 104.6,605.7C105.9,606.9 108.1,610.0 108.0,611.1C107.9,612.2 105.7,612.6 104.1,612.2C102.6,611.7 99.5,609.7 98.8,608.3C98.0,606.8 98.9,604.0 99.8,603.5Z" fill="#c9c8c6" stroke="#77767a" stroke-width="0.8" stroke-linejoin="round"/>
<path d="M103.7,622.9C104.1,622.4 106.5,621.9 107.4,622.1C108.2,622.2 109.2,623.5 108.9,624.0C108.5,624.5 106.1,625.3 105.2,625.1C104.4,624.9 103.3,623.4 103.7,622.9Z" fill="#c9c8c6" stroke="#77767a" stroke-width="0.8" stroke-linejoin="round"/>
<text x="105.8" y="589.2" font-size="12.0" letter-spacing="1.10" text-anchor="middle" fill="#a06a68" stroke="#a06a68" stroke-width="0.35" filter="url(#halo)">NORTHERN</text>
<text x="105.8" y="604.2" font-size="12.0" letter-spacing="1.10" text-anchor="middle" fill="#a06a68" stroke="#a06a68" stroke-width="0.35" filter="url(#halo)">MARIANA</text>
<text x="105.8" y="619.0" font-size="12.0" letter-spacing="1.10" text-anchor="middle" fill="#a06a68" stroke="#a06a68" stroke-width="0.35" filter="url(#halo)">ISLANDS</text>
<text x="105.8" y="633.8" font-size="12.0" letter-spacing="1.10" text-anchor="middle" fill="#a06a68" stroke="#a06a68" stroke-width="0.35" filter="url(#halo)">(U.S.)</text>
<text x="143.0" y="634.0" font-size="5.2" letter-spacing="-0.25" text-anchor="end" fill="#4d5a66" stroke="#fff" stroke-opacity="0.6" stroke-width="0.8" paint-order="stroke">©2026 TomTom ©2026 Zenrin <tspan text-decoration="underline">Feedback</tspan></text>
</g>
<rect x="157.1" y="509.2" width="125.9" height="128.8" fill="#a6d3fc"/>
<g clip-path="url(#tc1)">
<path d="M232.0,533.7L235.6,537.3L240.6,543.1L249.5,544.5L247.8,550.3L242.8,557.8L233.4,566.4L227.6,573.3L221.9,579.1L217.6,585.1L215.8,592.0L216.1,600.7L213.2,606.5L208.9,611.1L197.4,610.8L193.1,606.5L190.5,597.8L191.6,584.1L188.7,577.9L185.1,574.0L189.0,573.9L194.2,578.8L197.1,572.7L201.0,569.9L207.8,566.1L217.6,561.5L223.3,550.3L226.9,538.7L229.1,535.1Z" fill="#c9c8c6" stroke="#77767a" stroke-width="0.8" stroke-linejoin="round"/>
<circle cx="211.0" cy="568.6" r="3.5" fill="#fff" stroke="#4d4d4d" stroke-width="1.15"/><circle cx="211.0" cy="568.6" r="1.5" fill="#3a3a3a"/>
<text x="215.3" y="563.8" font-size="13.5" letter-spacing="-0.3" fill="#4a4a4a" stroke="#4a4a4a" stroke-width="0.3" filter="url(#halo2)">Hagåtña</text>
<text x="204.0" y="592.9" font-size="11.5" letter-spacing="0.90" text-anchor="middle" fill="#a06a68" stroke="#a06a68" stroke-width="0.35" filter="url(#halo)">GUAM</text>
<text x="204.0" y="608.3" font-size="11.5" letter-spacing="0.90" text-anchor="middle" fill="#a06a68" stroke="#a06a68" stroke-width="0.35" filter="url(#halo)">(U.S.)</text>
<text x="278.5" y="634.2" font-size="5.2" letter-spacing="-0.25" text-anchor="end" fill="#4d5a66" stroke="#fff" stroke-opacity="0.6" stroke-width="0.8" paint-order="stroke">©2026 Zenrin ©2026 TomTom <tspan text-decoration="underline">Feedback</tspan></text>
</g>
<rect x="293.3" y="509.2" width="148.7" height="128.8" fill="#a6d3fc"/>
<g clip-path="url(#tc2)">
<path d="M332.1,556.1C332.3,553.7 333.0,550.4 334.3,548.7C335.6,547.1 336.0,546.2 340.1,545.9C344.2,545.7 352.7,547.2 359.1,547.4C365.4,547.7 372.3,547.4 378.4,547.4C384.5,547.5 390.6,547.2 395.7,547.9C400.7,548.6 405.0,550.7 408.6,551.8C412.2,552.8 414.3,553.7 417.2,553.9C420.1,554.2 423.7,552.7 425.8,553.3C427.9,553.8 429.4,555.9 429.7,557.1C430.0,558.4 429.4,560.0 427.5,560.8C425.6,561.6 420.5,560.9 418.3,561.7C416.0,562.4 415.6,563.7 414.0,565.1C412.4,566.5 410.9,568.5 408.6,570.3C406.3,572.0 403.9,574.1 400.0,575.4C396.0,576.7 389.6,577.4 384.9,578.0C380.2,578.7 375.1,578.7 372.0,579.3C368.8,579.9 367.7,581.6 366.0,581.5C364.2,581.3 364.2,578.7 361.2,578.2C358.3,577.8 352.7,578.9 348.3,578.9C343.9,578.8 337.7,579.3 334.9,578.0C332.2,576.7 332.0,573.6 331.7,571.1C331.4,568.6 333.1,565.5 333.2,563.0C333.3,560.4 332.0,558.4 332.1,556.1Z" fill="#c9c8c6" stroke="#77767a" stroke-width="0.8" stroke-linejoin="round"/>
<path d="M409.0,566.4C410.0,565.0 414.4,563.6 417.2,563.0C420.0,562.3 424.3,561.8 425.8,562.5C427.3,563.2 427.5,566.0 426.2,567.3C425.0,568.5 420.8,569.4 418.3,570.1C415.8,570.7 412.7,571.7 411.2,571.1C409.6,570.5 408.0,567.8 409.0,566.4Z" fill="#c9c8c6" stroke="#77767a" stroke-width="0.8" stroke-linejoin="round"/>
<path d="M296.6,566.4C296.9,565.0 298.4,563.3 299.8,563.0C301.3,562.6 304.0,563.3 305.2,564.2C306.4,565.2 307.3,567.0 306.9,568.5C306.6,570.1 304.5,572.8 303.1,573.3C301.6,573.8 299.4,572.7 298.3,571.6C297.3,570.4 296.4,567.8 296.6,566.4Z" fill="#c9c8c6" stroke="#77767a" stroke-width="0.8" stroke-linejoin="round"/>
<path d="M318.6,554.3L321.4,551.8L324.2,554.3L321.4,556.9Z" fill="#c9c8c6" stroke="#77767a" stroke-width="0.8" stroke-linejoin="round"/>
<text x="360.3" y="558.9" font-size="10.0" letter-spacing="0.50" text-anchor="middle" fill="#a06a68" stroke="#a06a68" stroke-width="0.35" filter="url(#halo)">PUERTO RICO</text>
<text x="360.2" y="570.8" font-size="10.0" letter-spacing="0.75" text-anchor="middle" fill="#a06a68" stroke="#a06a68" stroke-width="0.35" filter="url(#halo)">(U.S.)</text>
<text x="438.0" y="528.5" font-size="10.0" letter-spacing="0.75" text-anchor="start" fill="#a06a68" stroke="#a06a68" stroke-width="0.35" filter="url(#halo)">BRITISH</text>
<text x="440.5" y="540.3" font-size="10.0" letter-spacing="0.75" text-anchor="start" fill="#a06a68" stroke="#a06a68" stroke-width="0.35" filter="url(#halo)">VIRGIN</text>
<text x="437.8" y="552.0" font-size="10.0" letter-spacing="0.75" text-anchor="start" fill="#a06a68" stroke="#a06a68" stroke-width="0.35" filter="url(#halo)">ISLANDS</text>
<text x="436.8" y="634.2" font-size="5.2" letter-spacing="-0.25" text-anchor="end" fill="#4d5a66" stroke="#fff" stroke-opacity="0.6" stroke-width="0.8" paint-order="stroke">©2026 OSM ©2026 TomTom <tspan text-decoration="underline">Feedback</tspan></text>
</g>
<rect x="452.0" y="509.2" width="122.2" height="128.8" fill="#a6d3fc"/>
<g clip-path="url(#tc3)">
<path d="M475.1,569.6C476.0,568.6 478.7,566.0 481.5,565.1C484.4,564.2 489.3,565.0 492.3,564.3C495.4,563.5 497.7,560.8 499.8,560.4C502.0,559.9 503.8,561.8 505.2,561.5C506.7,561.1 506.5,558.9 508.5,558.2C510.4,557.5 513.9,557.4 517.1,557.2C520.2,556.9 525.6,556.0 527.4,556.5C529.2,557.0 529.2,559.6 527.8,560.4C526.5,561.2 522.1,561.0 519.2,561.5C516.4,561.9 512.8,562.8 510.6,563.0C508.5,563.1 507.4,561.7 506.3,562.5C505.2,563.4 505.8,565.7 504.2,567.9C502.5,570.1 499.1,574.6 496.6,575.9C494.1,577.1 491.4,576.1 489.1,575.5C486.7,574.8 484.8,572.9 482.6,572.2C480.5,571.5 477.4,571.6 476.2,571.2C474.9,570.7 474.2,570.6 475.1,569.6Z" fill="#c9c8c6" stroke="#77767a" stroke-width="0.8" stroke-linejoin="round"/>
<path d="M527.4,562.1l2.2,0l-1.1,1.6Z" fill="#555"/>
<circle cx="498.8" cy="556.3" r="3.5" fill="#fff" stroke="#4d4d4d" stroke-width="1.15"/><circle cx="498.8" cy="556.3" r="1.5" fill="#3a3a3a"/>
<text x="503.0" y="551.4" font-size="13.5" letter-spacing="-0.3" fill="#4a4a4a" stroke="#4a4a4a" stroke-width="0.3" filter="url(#halo2)">Pago Pago</text>
<text x="507.6" y="584.6" font-size="11.0" letter-spacing="1.05" text-anchor="middle" fill="#a06a68" stroke="#a06a68" stroke-width="0.35" filter="url(#halo)">AMERICAN SAMOA</text>
<text x="505.9" y="598.8" font-size="11.3" letter-spacing="1.10" text-anchor="middle" fill="#a06a68" stroke="#a06a68" stroke-width="0.35" filter="url(#halo)">(U.S.)</text>
<text x="569.4" y="634.2" font-size="5.2" letter-spacing="-0.25" text-anchor="end" fill="#4d5a66" stroke="#fff" stroke-opacity="0.6" stroke-width="0.8" paint-order="stroke">©2026 TomTom <tspan text-decoration="underline">Feedback</tspan></text>
</g>
<rect x="585.1" y="509.2" width="121.9" height="128.8" fill="#a6d3fc"/>
<g clip-path="url(#tc4)">
<path d="M583.8,564.3C585.5,563.3 591.2,562.2 594.6,562.1C598.0,562.0 603.9,563.0 604.3,563.8C604.7,564.6 600.0,566.1 596.8,566.8C593.5,567.6 587.1,568.6 584.9,568.1C582.8,567.7 582.2,565.3 583.8,564.3Z" fill="#f3eede"/>
<path d="M602.1,545.3l4,2.2l-0.6,1l-4,-2.2Z" fill="#f6f3ea"/>
<path d="M617.2,553.9C616.1,552.2 617.2,546.7 618.3,543.2C619.4,539.6 619.9,534.8 623.7,532.8C627.5,530.8 637.3,530.7 640.9,531.3C644.5,532.0 642.7,535.6 645.2,536.7C647.7,537.8 652.9,537.0 656.0,537.8C659.0,538.6 661.9,540.2 663.5,541.4C665.1,542.7 666.0,543.6 665.7,545.3C665.3,547.0 663.5,550.3 661.4,551.8C659.2,553.2 655.1,552.7 652.8,553.9C650.4,555.2 649.0,558.6 647.4,559.3C645.8,560.0 645.0,559.3 643.1,558.2C641.1,557.2 638.6,553.6 635.5,552.8C632.5,552.1 627.8,553.3 624.8,553.5C621.7,553.7 618.3,555.6 617.2,553.9Z" fill="#c9c8c6" stroke="#77767a" stroke-width="0.8" stroke-linejoin="round"/>
<path d="M635.5,605.6C635.4,603.0 635.9,599.9 637.7,598.1C639.5,596.3 642.4,595.6 646.3,594.8C650.3,594.1 657.1,593.6 661.4,593.8C665.7,593.9 669.6,594.7 672.1,595.9C674.7,597.2 676.9,599.5 676.9,601.3C676.9,603.1 674.7,605.1 672.1,606.7C669.6,608.3 665.3,609.8 661.4,611.0C657.4,612.2 652.2,613.3 648.5,613.8C644.7,614.3 640.9,615.2 638.8,613.8C636.6,612.4 635.7,608.2 635.5,605.6Z" fill="#c9c8c6" stroke="#77767a" stroke-width="0.8" stroke-linejoin="round"/>
<text x="562.2" y="526.7" font-size="13.5" letter-spacing="-0.3" fill="#4a4a4a" stroke="#4a4a4a" stroke-width="0.3" filter="url(#halo2)">Juan</text>
<text x="677.0" y="514.2" font-size="11.0" letter-spacing="0.90" text-anchor="middle" fill="#a06a68" stroke="#a06a68" stroke-width="0.35" filter="url(#halo)">VIRGIN</text>
<text x="677.0" y="527.2" font-size="11.0" letter-spacing="0.90" text-anchor="middle" fill="#a06a68" stroke="#a06a68" stroke-width="0.35" filter="url(#halo)">ISLANDS</text>
<text x="676.5" y="540.7" font-size="11.0" letter-spacing="0.90" text-anchor="middle" fill="#a06a68" stroke="#a06a68" stroke-width="0.35" filter="url(#halo)">(U.K.)</text>
<text x="597.3" y="588.1" font-size="10.7" letter-spacing="0.55" text-anchor="start" fill="#a06a68" stroke="#a06a68" stroke-width="0.35" filter="url(#halo)">US VIRGIN ISLANDS</text>
<text x="654.2" y="601.4" font-size="11.0" letter-spacing="0.90" text-anchor="middle" fill="#a06a68" stroke="#a06a68" stroke-width="0.35" filter="url(#halo)">(U.S.)</text>
<text x="702.4" y="634.2" font-size="5.2" letter-spacing="-0.25" text-anchor="end" fill="#4d5a66" stroke="#fff" stroke-opacity="0.6" stroke-width="0.8" paint-order="stroke">©2026 TomTom <tspan text-decoration="underline">Feedback</tspan></text>
</g>
</svg>
<div class="abs terr-t nw" style="left:-0.4px;top:488.7px;width:160px;">Northern Mariana<br>Islands</div>
<div class="abs terr-t nw" style="left:139.7px;top:488.7px;width:160px;">Guam</div>
<div class="abs terr-t nw" style="left:287.7px;top:488.7px;width:160px;">Puerto Rico</div>
<div class="abs terr-t nw" style="left:433.4px;top:488.7px;width:160px;">American Samoa</div>
<div class="abs terr-t nw" style="left:566.1px;top:488.7px;width:160px;">US Virgin Islands</div>
</body>
</html>
